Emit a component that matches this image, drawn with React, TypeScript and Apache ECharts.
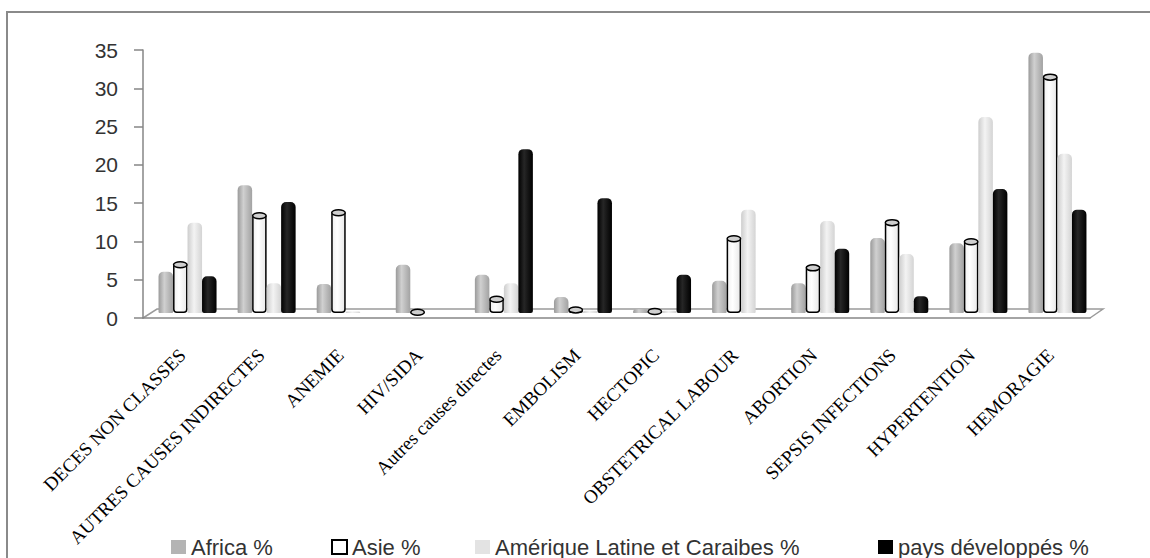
import React, { useEffect, useRef } from "react";
import * as echarts from "echarts";

const categories = [
  "DECES NON CLASSES",
  "AUTRES CAUSES INDIRECTES",
  "ANEMIE",
  "HIV/SIDA",
  "Autres causes directes",
  "EMBOLISM",
  "HECTOPIC",
  "OBSTETRICAL LABOUR",
  "ABORTION",
  "SEPSIS INFECTIONS",
  "HYPERTENTION",
  "HEMORAGIE",
];
const seriesNames = ["Africa %", "Asie %", "Amérique Latine et Caraibes %", "pays développés %"];
const africa = [5.4, 16.7, 3.8, 6.3, 5.0, 2.1, 0.5, 4.2, 3.9, 9.8, 9.1, 34.0];
const asie = [6.3, 12.7, 13.1, 0.1, 1.8, 0.4, 0.2, 9.7, 5.9, 11.8, 9.3, 30.8];
const amerique = [11.8, 3.9, 0.2, 0, 3.9, 0.3, 0.3, 13.5, 12.0, 7.7, 25.6, 20.8];
const developpes = [4.8, 14.5, 0, 0, 21.4, 15.0, 5.0, 0, 8.4, 2.2, 16.2, 13.5];
const yMin = 0;
const yMax = 35;
const yStep = 5;

const W = 1150;
const H = 558;
// front plane (axes)
const FL = 143, FT = 50, FR = 1090, FB = 318;
// back plane (bars)
const BL = 148, BT = 45, BR = 1097, BB = 313;
const BAR_W = 14.5;

function grad(stops: [number, string][]) {
  return new echarts.graphic.LinearGradient(
    0, 0, 1, 0,
    stops.map(([offset, color]) => ({ offset, color }))
  );
}

export default function App() {
  const ref = useRef<HTMLDivElement>(null);
  useEffect(() => {
    if (!ref.current) return;
    const chart = echarts.init(ref.current, undefined, { renderer: "svg" });
    const styles = [
      {
        color: grad([[0, "#9a9a9a"], [0.4, "#d0d0d0"], [1, "#a2a2a2"]]),
        borderRadius: [5, 5, 1, 1],
      },
      {
        color: grad([[0, "#f0f0f0"], [0.4, "#ffffff"], [1, "#e8e8e8"]]),
        borderColor: "#000",
        borderWidth: 1.5,
        borderRadius: [0, 0, 3, 3],
      },
      {
        color: grad([[0, "#cdcdcd"], [0.45, "#f3f3f3"], [1, "#d4d4d4"]]),
        borderRadius: [5, 5, 1, 1],
      },
      {
        color: grad([[0, "#000"], [0.4, "#262626"], [1, "#000"]]),
        borderRadius: [5, 5, 2, 2],
      },
    ];
    const dataSets = [africa, asie, amerique, developpes];
    const legendIcons = [
      { color: "#b4b4b4" },
      { color: "#ffffff", borderColor: "#000", borderWidth: 2 },
      { color: "#e3e3e3" },
      { color: "#000" },
    ];
    const legendLeft = [166, 326, 470, 873];
    const font = "Liberation Sans, Arial, sans-serif";

    const barSeries = dataSets.map((d, i) => ({
      name: seriesNames[i],
      type: "bar",
      xAxisIndex: 1,
      yAxisIndex: 1,
      data: d,
      barWidth: BAR_W,
      barGap: "0%",
      itemStyle: styles[i],
      z: 3,
    }));

    const asieTops = {
      type: "custom",
      xAxisIndex: 1,
      yAxisIndex: 1,
      silent: true,
      z: 4,
      data: asie.map((v, i) => [i, v]),
      renderItem: (params: any, api: any) => {
        const p = api.coord([api.value(0), api.value(1)]);
        return {
          type: "ellipse",
          shape: { cx: p[0] - BAR_W / 2, cy: p[1], rx: BAR_W / 2 - 0.5, ry: 3 },
          style: { fill: "#cfcfcf", stroke: "#000", lineWidth: 1.5 },
        };
      },
    };

    chart.setOption({
      animation: false,
      backgroundColor: "#fff",
      grid: [
        { left: FL, top: FT, width: FR - FL, height: FB - FT },
        { left: BL, top: BT, width: BR - BL, height: BB - BT },
      ],
      xAxis: [
        {
          type: "category",
          gridIndex: 0,
          data: categories,
          axisLine: { lineStyle: { color: "#868686", width: 1.5 } },
          axisTick: { length: 6, lineStyle: { color: "#868686", width: 1.5 } },
          axisLabel: {
            rotate: 45,
            interval: 0,
            margin: 34,
            color: "#000",
            fontFamily: "Liberation Serif, Times New Roman, serif",
            fontSize: 19,
          },
        },
        {
          type: "category",
          gridIndex: 1,
          data: categories,
          show: false,
        },
      ],
      yAxis: [
        {
          type: "value",
          gridIndex: 0,
          min: yMin,
          max: yMax,
          interval: yStep,
          axisLine: { show: true, lineStyle: { color: "#868686", width: 1.5 } },
          axisTick: { show: true, length: 9, lineStyle: { color: "#868686", width: 1.5 } },
          splitLine: { show: false },
          axisLabel: {
            margin: 25,
            color: "#333",
            fontFamily: font,
            fontSize: 21,
          },
        },
        {
          type: "value",
          gridIndex: 1,
          min: yMin,
          max: yMax,
          interval: yStep,
          show: false,
          splitLine: { show: false },
        },
      ],
      legend: seriesNames.map((n, i) => ({
        left: legendLeft[i],
        top: 530,
        orient: "horizontal",
        icon: "rect",
        itemWidth: 15,
        itemHeight: 14,
        itemGap: 0,
        textStyle: { fontFamily: font, fontSize: 22, color: "#333", lineHeight: 24 },
        data: [{ name: n, itemStyle: legendIcons[i] }],
      })),
      graphic: [
        {
          type: "rect",
          shape: { x: 7, y: 12, width: W + 50, height: H + 50 },
          style: { fill: "none", stroke: "#8a8a8a", lineWidth: 2 },
          silent: true,
        },
        {
          type: "polyline",
          shape: {
            points: [
              [FL, FB],
              [FL + 14, FB - 9],
              [FR + 13, FB - 9],
              [FR, FB],
            ],
          },
          style: { fill: "none", stroke: "#9a9a9a", lineWidth: 1.5 },
          silent: true,
          z: 0,
        },
      ],
      series: [...barSeries, asieTops],
    });
    return () => chart.dispose();
  }, []);
  return (
    <div
      ref={ref}
      style={{ position: "fixed", left: 0, top: 0, width: W, height: H }}
    />
  );
}
